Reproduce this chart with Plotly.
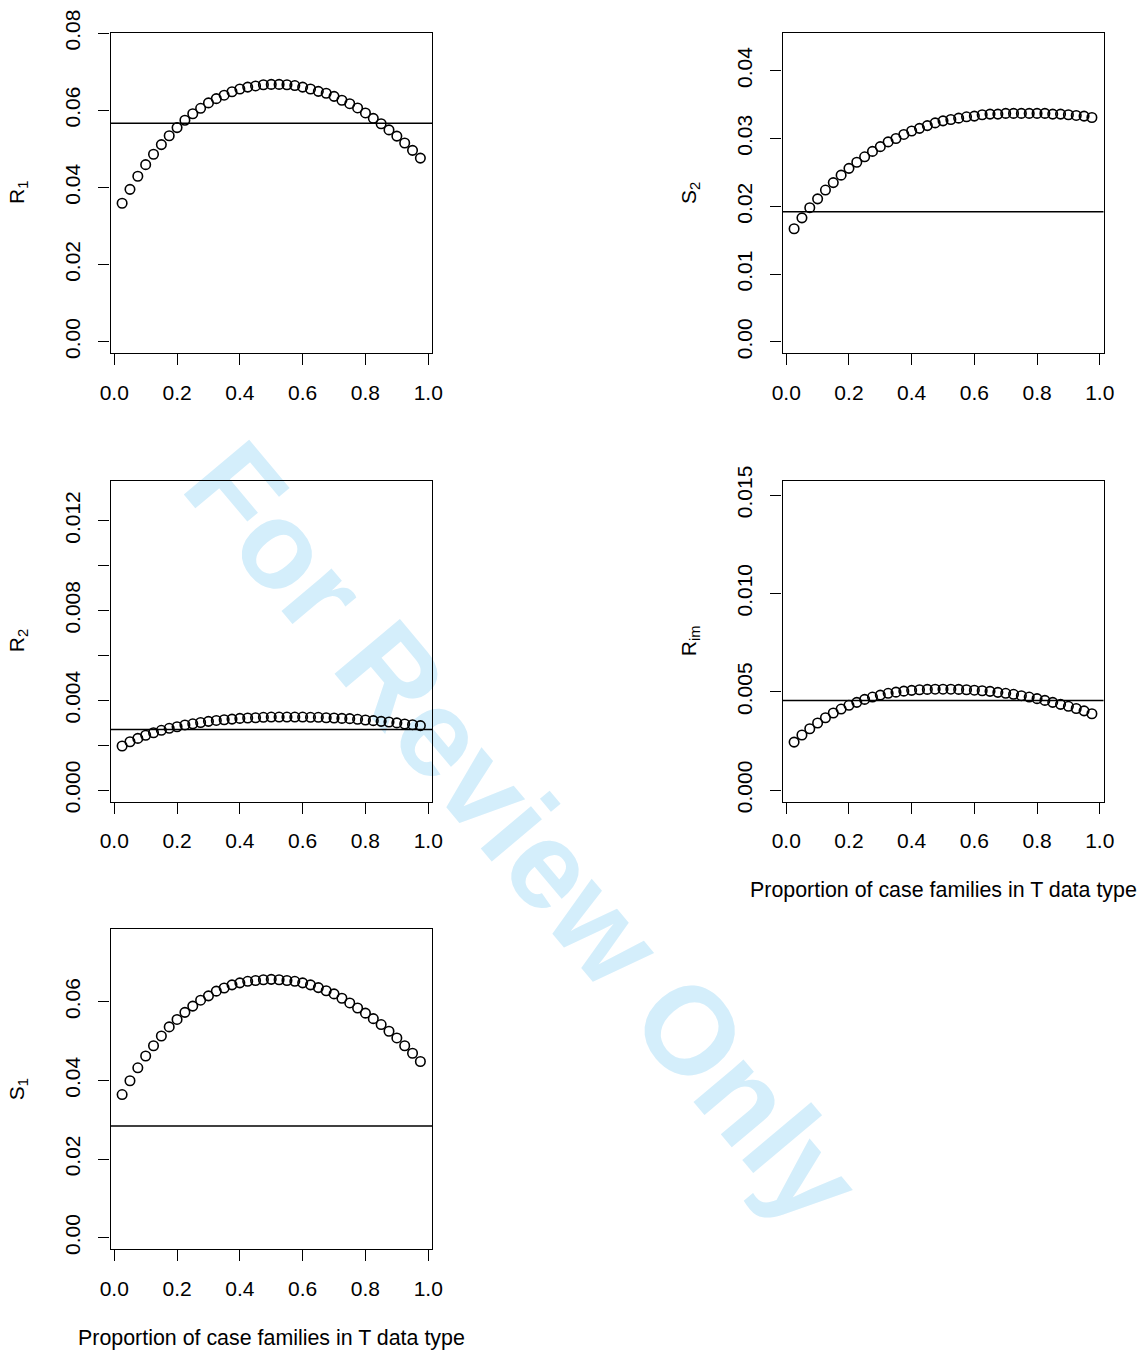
import plotly.graph_objects as go

# ---------------- data ----------------
x_prop = [0.025, 0.05, 0.075, 0.1, 0.125, 0.15, 0.175, 0.2, 0.225, 0.25,
          0.275, 0.3, 0.325, 0.35, 0.375, 0.4, 0.425, 0.45, 0.475, 0.5,
          0.525, 0.55, 0.575, 0.6, 0.625, 0.65, 0.675, 0.7, 0.725, 0.75,
          0.775, 0.8, 0.825, 0.85, 0.875, 0.9, 0.925, 0.95, 0.975]

r1 = [0.0359, 0.0395, 0.0429, 0.0459, 0.0486, 0.0511, 0.0534, 0.0555, 0.0574, 0.0591,
      0.0605, 0.0619, 0.0630, 0.0639, 0.0648, 0.0655, 0.0660, 0.0663, 0.0666, 0.0667,
      0.0667, 0.0666, 0.0664, 0.0660, 0.0655, 0.0649, 0.0644, 0.0636, 0.0626, 0.0617,
      0.0606, 0.0593, 0.0579, 0.0565, 0.0549, 0.0533, 0.0515, 0.0496, 0.0476]

s2 = [0.0167, 0.0183, 0.0198, 0.0211, 0.0224, 0.0235, 0.0246, 0.0256, 0.0265, 0.0273,
      0.0281, 0.0288, 0.0295, 0.0300, 0.0306, 0.0311, 0.0315, 0.0319, 0.0323, 0.0326,
      0.0328, 0.0330, 0.0332, 0.0333, 0.0335, 0.0336, 0.0336, 0.0337, 0.0337, 0.0337,
      0.0337, 0.0337, 0.0337, 0.0336, 0.0336, 0.0335, 0.0334, 0.0333, 0.0331]

r2 = [0.00196, 0.00215, 0.00230, 0.00244, 0.00255, 0.00266, 0.00275, 0.00282, 0.00290, 0.00295,
      0.00301, 0.00306, 0.00310, 0.00313, 0.00316, 0.00319, 0.00321, 0.00322, 0.00324, 0.00325,
      0.00325, 0.00325, 0.00325, 0.00325, 0.00324, 0.00324, 0.00322, 0.00321, 0.00319, 0.00318,
      0.00315, 0.00312, 0.00309, 0.00306, 0.00303, 0.00299, 0.00294, 0.00291, 0.00287]

rim = [0.00244, 0.00280, 0.00312, 0.00341, 0.00368, 0.00392, 0.00412, 0.00431, 0.00446, 0.00461,
       0.00473, 0.00483, 0.00492, 0.00498, 0.00503, 0.00507, 0.00510, 0.00512, 0.00513, 0.00513,
       0.00513, 0.00512, 0.00510, 0.00508, 0.00505, 0.00502, 0.00497, 0.00492, 0.00487, 0.00480,
       0.00473, 0.00465, 0.00456, 0.00446, 0.00436, 0.00426, 0.00415, 0.00403, 0.00388]

s1 = [0.0364, 0.0399, 0.0432, 0.0462, 0.0488, 0.0513, 0.0536, 0.0555, 0.0573, 0.0589,
      0.0604, 0.0615, 0.0627, 0.0635, 0.0643, 0.0648, 0.0652, 0.0654, 0.0656, 0.0657,
      0.0656, 0.0654, 0.0652, 0.0648, 0.0643, 0.0636, 0.0628, 0.0620, 0.0609, 0.0597,
      0.0584, 0.0571, 0.0557, 0.0542, 0.0525, 0.0508, 0.0488, 0.0469, 0.0448]

# reference (horizontal) levels
ref_r1 = 0.0566
ref_s2 = 0.0192
ref_r2 = 0.00270
ref_rim = 0.00456
ref_s1 = 0.0284

x_ticks = [0.0, 0.2, 0.4, 0.6, 0.8, 1.0]
x_ticktext = ["0.0", "0.2", "0.4", "0.6", "0.8", "1.0"]

r1_ticks = [0.00, 0.02, 0.04, 0.06, 0.08]
r1_text = ["0.00", "0.02", "0.04", "0.06", "0.08"]
s2_ticks = [0.00, 0.01, 0.02, 0.03, 0.04]
s2_text = ["0.00", "0.01", "0.02", "0.03", "0.04"]
r2_ticks = [0.000, 0.004, 0.008, 0.012]
r2_text = ["0.000", "0.004", "0.008", "0.012"]
r2_minor = [0.002, 0.006, 0.010]
rim_ticks = [0.000, 0.005, 0.010, 0.015]
rim_text = ["0.000", "0.005", "0.010", "0.015"]
s1_ticks = [0.00, 0.02, 0.04, 0.06]
s1_text = ["0.00", "0.02", "0.04", "0.06"]

x_title = "Proportion of case families in T data type"

# ---------------- layout geometry (pixels) ----------------
W, H = 1139, 1350
FONT = "Liberation Sans, Arial, Helvetica, sans-serif"
FS = 21

left_col = (110.5, 432.0)
right_col = (782.5, 1103.5)
row1 = (32.7, 353.3)
row2 = (480.7, 801.7)
row3 = (929.0, 1249.3)

def xdom(c):
    return [c[0] / W, c[1] / W]

def ydom(r):
    return [1 - r[1] / H, 1 - r[0] / H]

panels = [
    dict(y=r1, ref=ref_r1, col=left_col, row=row1, yr=[-0.0030, 0.0801],
         tv=r1_ticks, tt=r1_text, minor=None, lab="R<sub>1</sub>", labx=18),
    dict(y=s2, ref=ref_s2, col=right_col, row=row1, yr=[-0.00167, 0.0456],
         tv=s2_ticks, tt=s2_text, minor=None, lab="S<sub>2</sub>", labx=690),
    dict(y=r2, ref=ref_r2, col=left_col, row=row2, yr=[-0.00052, 0.01378],
         tv=r2_ticks, tt=r2_text, minor=r2_minor, lab="R<sub>2</sub>", labx=18),
    dict(y=rim, ref=ref_rim, col=right_col, row=row2, yr=[-0.00059, 0.01573],
         tv=rim_ticks, tt=rim_text, minor=None, lab="R<sub>im</sub>", labx=690),
    dict(y=s1, ref=ref_s1, col=left_col, row=row3, yr=[-0.00295, 0.0785],
         tv=s1_ticks, tt=s1_text, minor=None, lab="S<sub>1</sub>", labx=18),
]

fig = go.Figure()
layout = dict(
    width=W, height=H,
    margin=dict(l=0, r=0, t=0, b=0, pad=0, autoexpand=False),
    paper_bgcolor="white", plot_bgcolor="rgba(0,0,0,0)",
    showlegend=False,
    font=dict(family=FONT, size=FS, color="black"),
)
shapes = []
annotations = []

axis_common = dict(
    showline=True, mirror=True, linecolor="black", linewidth=1.3,
    ticks="outside", ticklen=11, tickwidth=1.3, tickcolor="black",
    showgrid=False, zeroline=False, automargin=False,
    tickfont=dict(family=FONT, size=FS, color="black"),
)

for i, p in enumerate(panels, start=1):
    sfx = "" if i == 1 else str(i)
    xa, ya = "x" + sfx, "y" + sfx
    fig.add_trace(go.Scatter(
        x=x_prop, y=p["y"], mode="markers", xaxis=xa, yaxis=ya,
        marker=dict(symbol="circle-open", size=9.5, color="black",
                    line=dict(width=1.6, color="black")),
        hoverinfo="skip",
    ))
    layout["xaxis" + sfx] = dict(
        domain=xdom(p["col"]), anchor=ya, range=[-0.012, 1.012],
        tickvals=x_ticks, ticktext=x_ticktext, ticklabelstandoff=9, **axis_common)
    yax = dict(
        domain=ydom(p["row"]), anchor=xa, range=p["yr"],
        tickvals=p["tv"], ticktext=p["tt"], tickangle=-90,
        ticklabelstandoff=10, **axis_common)
    if p["minor"] is not None:
        yax["minor"] = dict(tickvals=p["minor"], ticks="outside", ticklen=11,
                            tickwidth=1.3, tickcolor="black", showgrid=False)
    layout["yaxis" + sfx] = yax
    shapes.append(dict(type="line", xref=xa + " domain", yref=ya,
                       x0=0, x1=1, y0=p["ref"], y1=p["ref"],
                       line=dict(color="black", width=1.5), layer="above"))
    annotations.append(dict(
        text=p["lab"], xref="paper", yref="paper",
        x=p["labx"] / W, y=1 - (p["row"][0] + p["row"][1]) / 2 / H,
        showarrow=False, textangle=-90, xanchor="center", yanchor="middle",
        font=dict(family=FONT, size=FS, color="black")))

# x-axis titles
annotations.append(dict(text=x_title, xref="paper", yref="paper",
                        x=(left_col[0] + left_col[1]) / 2 / W, y=1 - 1338 / H,
                        showarrow=False, xanchor="center", yanchor="middle",
                        font=dict(family=FONT, size=21.4, color="black")))
annotations.append(dict(text=x_title, xref="paper", yref="paper",
                        x=(right_col[0] + right_col[1]) / 2 / W, y=1 - 890 / H,
                        showarrow=False, xanchor="center", yanchor="middle",
                        font=dict(family=FONT, size=21.4, color="black")))

# watermark (drawn below the plots)
wm_p0 = (198, 425)
wm_p1 = (868, 1225)
shapes.append(dict(
    type="line", xref="paper", yref="paper", layer="below",
    x0=wm_p0[0] / W, y0=1 - wm_p0[1] / H, x1=wm_p1[0] / W, y1=1 - wm_p1[1] / H,
    line=dict(color="rgba(0,0,0,0)", width=0),
    label=dict(text="<b>For Review Only</b>", textposition="middle",
               textangle=50, yanchor="middle", xanchor="center",
               font=dict(family=FONT, size=124, color="#d4eefb")),
))

layout["shapes"] = shapes
layout["annotations"] = annotations
fig.update_layout(**layout)
fig.write_html("out.html")
